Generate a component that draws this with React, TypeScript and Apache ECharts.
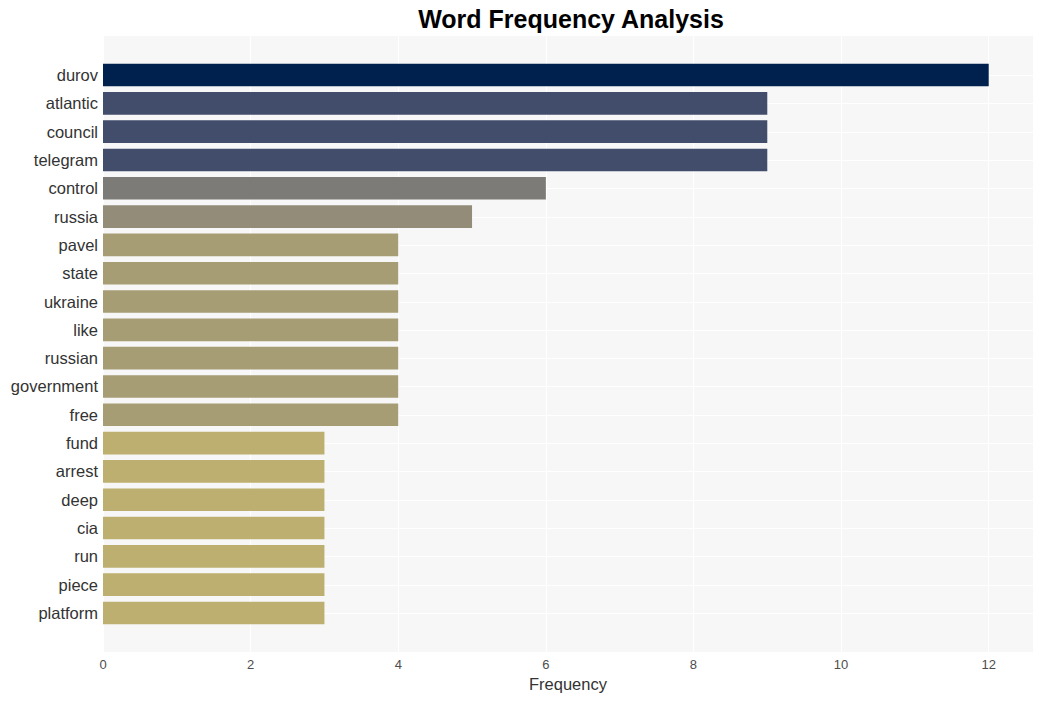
import React, { useEffect, useRef } from "react";
import * as echarts from "echarts";

const categories = [
  "durov", "atlantic", "council", "telegram", "control", "russia", "pavel", "state",
  "ukraine", "like", "russian", "government", "free", "fund", "arrest", "deep",
  "cia", "run", "piece", "platform",
];
const values = [12, 9, 9, 9, 6, 5, 4, 4, 4, 4, 4, 4, 4, 3, 3, 3, 3, 3, 3, 3];
const colorByValue: Record<number, string> = {
  12: "#00204D",
  9: "#414D6B",
  6: "#7C7B78",
  5: "#938C78",
  4: "#A69D75",
  3: "#BCAF6F",
};
const xTicks = [0, 2, 4, 6, 8, 10, 12];
const xMax = 12.6;

export default function App() {
  const ref = useRef<HTMLDivElement>(null);
  useEffect(() => {
    if (!ref.current) return;
    const chart = echarts.init(ref.current, undefined, { renderer: "svg" });
    const font = "Liberation Sans, Arial, sans-serif";
    const left = 103;
    const right = 1042 - 1033;
    chart.setOption({
      animation: false,
      title: {
        text: "Word Frequency Analysis",
        left: 566,
        top: 1,
        textAlign: "center",
        textStyle: { fontFamily: font, fontSize: 25, fontWeight: "bold", color: "#000" },
      },
      grid: [
        {
          left, right, top: 36, bottom: 701 - 652,
          show: true, backgroundColor: "#F7F7F7", borderWidth: 0,
        },
        {
          left, right, top: 60.85, bottom: 701 - 627.15,
        },
      ],
      xAxis: [
        {
          gridIndex: 0,
          type: "value",
          min: 0,
          max: xMax,
          interval: 2,
          name: "Frequency",
          nameLocation: "middle",
          nameGap: 23,
          nameTextStyle: { fontFamily: font, fontSize: 16.5, color: "#333" },
          axisLine: { show: false },
          axisTick: { show: false },
          axisLabel: {
            fontFamily: font, fontSize: 13, color: "#4D4D4D", margin: 6,
            formatter: (v: number) => (xTicks.includes(v) ? String(v) : ""),
          },
          splitLine: { show: true, lineStyle: { color: "#FFFFFF", width: 1 } },
        },
        {
          gridIndex: 1,
          type: "value",
          min: 0,
          max: xMax,
          show: false,
          splitLine: { show: false },
        },
      ],
      yAxis: [
        { gridIndex: 0, type: "value", show: false, splitLine: { show: false } },
        {
          gridIndex: 1,
          type: "category",
          data: categories,
          inverse: true,
          axisLine: { show: false },
          axisTick: { show: false },
          splitLine: { show: false },
          axisLabel: { fontFamily: font, fontSize: 16.5, color: "#333", margin: 5 },
        },
      ],
      series: [
        {
          type: "custom",
          xAxisIndex: 1,
          yAxisIndex: 1,
          z: 1,
          silent: true,
          data: categories.map((_, i) => i),
          renderItem: (params: any, api: any) => {
            const i = api.value(0);
            const p0 = api.coord([0, i]);
            const p1 = api.coord([xMax, i]);
            return {
              type: "line",
              shape: { x1: p0[0], y1: Math.round(p0[1]) + 0.5, x2: p1[0], y2: Math.round(p1[1]) + 0.5 },
              style: { stroke: "#FFFFFF", lineWidth: 1 },
            };
          },
          encode: { y: 0 },
        },
        {
          type: "bar",
          xAxisIndex: 1,
          yAxisIndex: 1,
          z: 2,
          barWidth: "80%",
          data: values.map((v) => ({ value: v, itemStyle: { color: colorByValue[v] } })),
        },
      ],
    });
    return () => chart.dispose();
  }, []);
  return <div ref={ref} style={{ width: 1042, height: 701, position: "absolute", left: 0, top: 0 }} />;
}
